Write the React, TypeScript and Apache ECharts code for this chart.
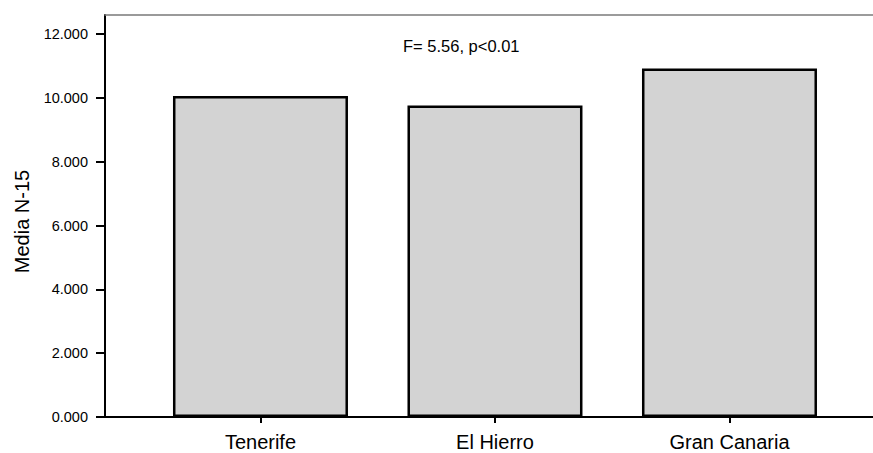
import React, { useEffect, useRef } from "react";
import * as echarts from "echarts";

const categories = ["Tenerife", "El Hierro", "Gran Canaria"];
const means = [10.06, 9.76, 10.92];
const yTicks = [0, 2, 4, 6, 8, 10, 12];
const annotation = "F= 5.56, p<0.01";
const yTitle = "Media N-15";

const FONT = "'Liberation Sans', Arial, sans-serif";

export default function App() {
  const ref = useRef<HTMLDivElement>(null);
  useEffect(() => {
    if (!ref.current) return;
    const chart = echarts.init(ref.current, null, { renderer: "svg" });
    const positions = categories.map((_, i) => i + 1);
    chart.setOption({
      animation: false,
      backgroundColor: "#ffffff",
      title: {
        text: annotation,
        left: 403,
        top: 37,
        padding: 0,
        textStyle: { fontFamily: FONT, fontSize: 16.5, fontWeight: "normal", color: "#000" },
      },
      graphic: [
        {
          type: "text",
          x: 22,
          y: 221.5,
          rotation: Math.PI / 2,
          style: {
            text: yTitle,
            fontFamily: FONT,
            fontSize: 20,
            fill: "#000",
            align: "center",
            verticalAlign: "middle",
          },
        },
      ],
      grid: { left: 105, right: 0, top: 15, bottom: 36, containLabel: false },
      xAxis: [
        {
          type: "value",
          min: 0.337,
          max: 3.612,
          axisLine: { show: true, onZero: false, lineStyle: { color: "#000", width: 2 } },
          axisTick: { show: true, customValues: positions, length: 6, lineStyle: { color: "#000", width: 2 } },
          axisLabel: {
            show: true,
            customValues: positions,
            formatter: (v: number) => categories[Math.round(v) - 1] ?? "",
            fontFamily: FONT,
            fontSize: 20,
            color: "#000",
            margin: 15,
          },
          splitLine: { show: false },
        },
        {
          type: "value",
          position: "top",
          min: 0.337,
          max: 3.612,
          axisLine: { show: true, onZero: false, lineStyle: { color: "#7a7a7a", width: 1.5 } },
          axisTick: { show: false },
          axisLabel: { show: false },
          splitLine: { show: false },
        },
      ],
      yAxis: {
        type: "value",
        min: 0,
        max: 12.6,
        interval: 2,
        axisLine: { show: true, lineStyle: { color: "#000", width: 2 } },
        axisTick: { show: true, customValues: yTicks, length: 9, lineStyle: { color: "#000", width: 2 } },
        axisLabel: {
          customValues: yTicks,
          formatter: (v: number) => v.toFixed(3),
          fontFamily: FONT,
          fontSize: 14.5,
          color: "#000",
          margin: 17,
        },
        splitLine: { show: false },
      },
      series: [
        {
          type: "bar",
          xAxisIndex: 0,
          barWidth: 175,
          data: positions.map((p, i) => [p, means[i]]),
          itemStyle: { color: "#d3d3d3", borderColor: "#000", borderWidth: 2.5 },
        },
      ],
    });
    return () => chart.dispose();
  }, []);
  return (
    <div
      ref={ref}
      style={{ position: "fixed", left: 0, top: 0, width: 873, height: 453 }}
    />
  );
}
